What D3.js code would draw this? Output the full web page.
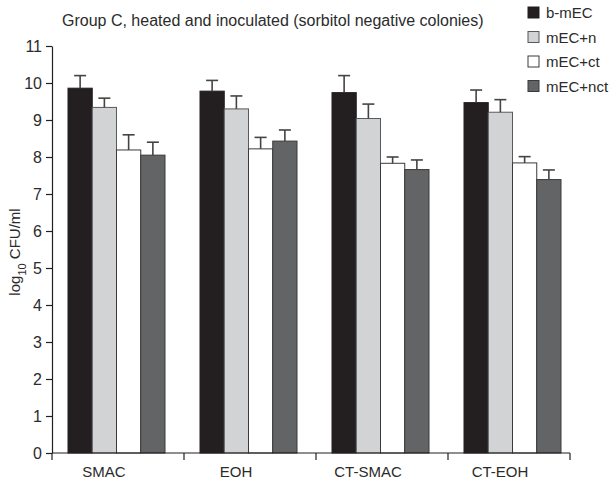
<!DOCTYPE html>
<html>
<head>
<meta charset="utf-8">
<script src="https://cdn.jsdelivr.net/npm/d3@7"></script>
<style>
  body { margin: 0; background: #fff; }
  svg text { font-family: "Liberation Sans", Arial, sans-serif; fill: #2b2b2b; }
</style>
</head>
<body>
<svg id="chart" width="614" height="480"></svg>
<script>
// data
var groups = ["SMAC", "EOH", "CT-SMAC", "CT-EOH"];
var series = ["b-mEC", "mEC+n", "mEC+ct", "mEC+nct"];
var bmec   = [9.86, 9.78, 9.74, 9.47];
var mecN   = [9.34, 9.30, 9.04, 9.21];
var mecCt  = [8.19, 8.22, 7.83, 7.84];
var mecNct = [8.05, 8.43, 7.66, 7.39];
var errBmec   = [0.34, 0.29, 0.46, 0.34];
var errMecN   = [0.25, 0.35, 0.39, 0.34];
var errMecCt  = [0.41, 0.31, 0.17, 0.17];
var errMecNct = [0.35, 0.30, 0.26, 0.26];
var yTicks = [0, 1, 2, 3, 4, 5, 6, 7, 8, 9, 10, 11];

var fills = ["#231f20", "#d1d3d4", "#ffffff", "#636466"];
var strokes = ["#231f20", "#58595b", "#3a3a3a", "#3a3a3a"];

var values = [bmec, mecN, mecCt, mecNct];
var errors = [errBmec, errMecN, errMecCt, errMecNct];

var rows = [];
groups.forEach(function(g, gi) {
  series.forEach(function(s, si) {
    rows.push({group: g, series: s, si: si, value: values[si][gi], err: errors[si][gi]});
  });
});

var svg = d3.select("#chart");

var x = d3.scaleBand().domain(groups).range([52, 580]);
var x1 = d3.scaleBand().domain(series).range([16, 113]);
var y = d3.scaleLinear().domain([0, 11]).range([453, 46]);

// bars
var bars = svg.append("g");
bars.selectAll("rect")
  .data(rows)
  .enter()
  .append("rect")
  .attr("x", function(d) { return x(d.group) + x1(d.series); })
  .attr("y", function(d) { return y(d.value); })
  .attr("width", x1.bandwidth())
  .attr("height", function(d) { return y(0) - y(d.value); })
  .attr("fill", function(d) { return fills[d.si]; })
  .attr("stroke", function(d) { return strokes[d.si]; })
  .attr("stroke-width", 1);

// error bars (upper only)
var eb = svg.append("g").attr("stroke", "#444").attr("stroke-width", 1.6);
eb.selectAll("line.v")
  .data(rows)
  .enter()
  .append("line")
  .attr("class", "v")
  .attr("x1", function(d) { return x(d.group) + x1(d.series) + x1.bandwidth() / 2; })
  .attr("x2", function(d) { return x(d.group) + x1(d.series) + x1.bandwidth() / 2; })
  .attr("y1", function(d) { return y(d.value); })
  .attr("y2", function(d) { return y(d.value + d.err); });
eb.selectAll("line.c")
  .data(rows)
  .enter()
  .append("line")
  .attr("class", "c")
  .attr("x1", function(d) { return x(d.group) + x1(d.series) + x1.bandwidth() / 2 - 6; })
  .attr("x2", function(d) { return x(d.group) + x1(d.series) + x1.bandwidth() / 2 + 6; })
  .attr("y1", function(d) { return y(d.value + d.err); })
  .attr("y2", function(d) { return y(d.value + d.err); });

// y axis
var yAxis = svg.append("g")
  .attr("transform", "translate(52,0)")
  .call(d3.axisLeft(y).tickValues(yTicks).tickSize(6).tickSizeOuter(0).tickFormat(d3.format("d")));
yAxis.selectAll("text").style("font-size", "16px").style("fill", "#2b2b2b").attr("dx", "-1px");
yAxis.selectAll("line, path").attr("stroke", "#231f20").attr("stroke-width", 1.2);

// x axis: baseline, group dividers and labels
var xAxis = svg.append("g").attr("transform", "translate(0," + y(0) + ")");
var xEnd = x.range()[1] - 10;
xAxis.append("line")
  .attr("x1", x.range()[0]).attr("x2", xEnd)
  .attr("stroke", "#231f20").attr("stroke-width", 1.2);
var dividers = groups.map(function(g) { return x(g); }).concat([xEnd]);
xAxis.selectAll("line.tick")
  .data(dividers)
  .enter()
  .append("line")
  .attr("class", "tick")
  .attr("x1", function(d) { return d; }).attr("x2", function(d) { return d; })
  .attr("y1", 0).attr("y2", 7)
  .attr("stroke", "#231f20").attr("stroke-width", 1.2);
xAxis.selectAll("text")
  .data(groups)
  .enter()
  .append("text")
  .attr("x", function(d) { return x(d) + x.bandwidth() / 2 - 14; })
  .attr("y", 24)
  .attr("text-anchor", "middle")
  .style("font-size", "15px")
  .text(function(d) { return d; });

// y label
var yl = svg.append("text")
  .attr("transform", "translate(20,252) rotate(-90)")
  .attr("text-anchor", "middle")
  .style("font-size", "15px");
yl.append("tspan").text("log");
yl.append("tspan").attr("baseline-shift", "sub").style("font-size", "11px").text("10");
yl.append("tspan").text(" CFU/ml");

// title
svg.append("text")
  .attr("x", 62).attr("y", 26)
  .style("font-size", "16px")
  .text("Group C, heated and inoculated (sorbitol negative colonies)");

// legend
var legend = svg.append("g").attr("transform", "translate(528,0)");
var lg = legend.selectAll("g")
  .data(series)
  .enter()
  .append("g")
  .attr("transform", function(d, i) { return "translate(0," + (13 + i * 24.5) + ")"; });
lg.append("rect")
  .attr("x", 0).attr("y", -6)
  .attr("width", 11).attr("height", 11)
  .attr("fill", function(d, i) { return fills[i]; })
  .attr("stroke", function(d, i) { return strokes[i]; });
lg.append("text")
  .attr("x", 18).attr("y", 5)
  .style("font-size", "15px")
  .text(function(d) { return d; });
</script>
</body>
</html>
